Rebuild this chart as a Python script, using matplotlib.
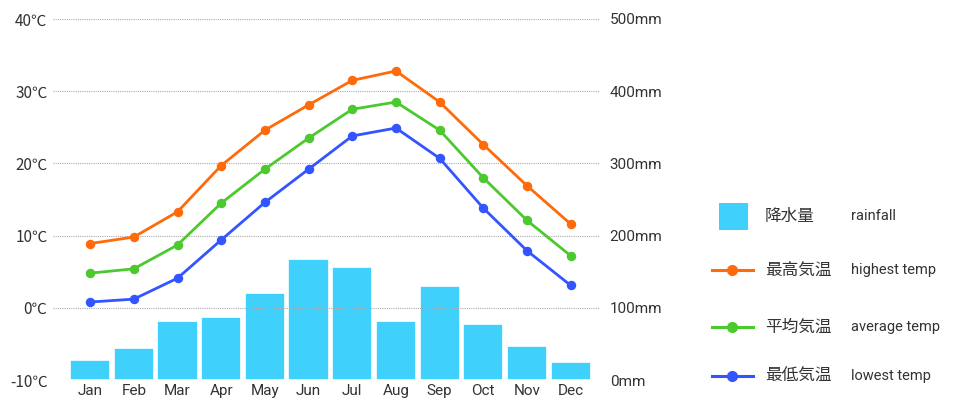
import matplotlib.pyplot as plt
from matplotlib.lines import Line2D
from matplotlib.patches import Rectangle

plt.rcParams['font.family'] = ['Roboto', 'Noto Sans CJK JP', 'DejaVu Sans']

months = ['Jan', 'Feb', 'Mar', 'Apr', 'May', 'Jun', 'Jul', 'Aug', 'Sep', 'Oct', 'Nov', 'Dec']
rainfall = [28, 45, 82, 87, 120, 168, 157, 82, 130, 77, 47, 25]
temp_high = [8.9, 9.8, 13.3, 19.7, 24.6, 28.1, 31.5, 32.8, 28.5, 22.6, 16.9, 11.6]
temp_avg = [4.8, 5.4, 8.7, 14.5, 19.2, 23.5, 27.5, 28.5, 24.6, 18.0, 12.1, 7.2]
temp_low = [0.8, 1.2, 4.1, 9.4, 14.6, 19.2, 23.8, 24.9, 20.7, 13.8, 7.9, 3.1]
temp_ticks = [-10, 0, 10, 20, 30, 40]
rain_ticks = [0, 100, 200, 300, 400, 500]

bar_color = '#40D0FC'
high_color = '#FF6A0A'
avg_color = '#4CC92E'
low_color = '#3355FF'
text_color = '#333333'

fig = plt.figure(figsize=(9.55, 4.04), dpi=100)
ax = fig.add_axes([53 / 955, 24 / 404, 547 / 955, 361 / 404])
ax2 = ax.twinx()

x = list(range(len(months)))

# rainfall bars on the right axis
ax2.bar(x, rainfall, width=0.92, color=bar_color, edgecolor='white', linewidth=1.2, zorder=1)
ax2.set_ylim(0, 500)
ax2.set_yticks(rain_ticks)
ax2.set_yticklabels([f'{v}mm' for v in rain_ticks])

# temperature lines on the left axis, drawn on top
ax.set_zorder(ax2.get_zorder() + 1)
ax.patch.set_visible(False)
for vals, c in [(temp_high, high_color), (temp_avg, avg_color), (temp_low, low_color)]:
    ax.plot(x, vals, color=c, linewidth=2, marker='o', markersize=5.8, zorder=3)
ax.set_ylim(-10, 40)
ax.set_yticks(temp_ticks)
ax.set_yticklabels([f'{v}℃' for v in temp_ticks], family=['Noto Sans CJK JP', 'DejaVu Sans'])
ax.set_xlim(-0.85, 11.67)
ax.set_xticks(x)
ax.set_xticklabels(months)

for t in temp_ticks:
    ax.axhline(t, color='#aaaaaa', linestyle=(0, (1, 1)), linewidth=0.8, zorder=0)

for a in (ax, ax2):
    for s in a.spines.values():
        s.set_visible(False)
    a.tick_params(length=0, labelsize=11, labelcolor=text_color)
ax.tick_params(axis='y', pad=4)
ax2.tick_params(axis='y', pad=7)
ax.tick_params(axis='x', pad=3)

# legend drawn by hand in figure coords
def fx(px):
    return px / 955

def fy(py):
    return 1 - py / 404

fig.patches.append(Rectangle((fx(719), fy(230)), 29 / 955, 27 / 404, transform=fig.transFigure,
                             facecolor=bar_color, edgecolor='none'))
fig.text(fx(765), fy(216), '降水量', fontsize=12, color=text_color, va='center')
fig.text(fx(851), fy(216), 'rainfall', fontsize=10.5, color=text_color, va='center')

legend_rows = [(270, high_color, '最高気温', 'highest temp'),
               (327, avg_color, '平均気温', 'average temp'),
               (376, low_color, '最低気温', 'lowest temp')]
for py, c, jp, en in legend_rows:
    fig.add_artist(Line2D([fx(712), fx(753)], [fy(py), fy(py)], transform=fig.transFigure,
                          color=c, linewidth=2.2, marker=None))
    fig.add_artist(Line2D([fx(732)], [fy(py)], transform=fig.transFigure,
                          color=c, marker='o', markersize=7, linestyle='none'))
    fig.text(fx(765), fy(py), jp, fontsize=12, color=text_color, va='center')
    fig.text(fx(851), fy(py), en, fontsize=10.5, color=text_color, va='center')

fig.savefig('out.png', dpi=100)
